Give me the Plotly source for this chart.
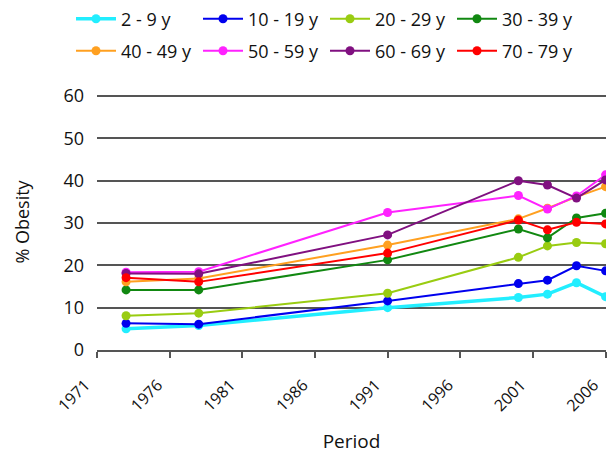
import plotly.graph_objects as go

years = [1973, 1978, 1991, 2000, 2002, 2004, 2006]
tick_years = [1971, 1976, 1981, 1986, 1991, 1996, 2001, 2006]

names = ["2 - 9 y", "10 - 19 y", "20 - 29 y", "30 - 39 y",
         "40 - 49 y", "50 - 59 y", "60 - 69 y", "70 - 79 y"]

age_2_9 = [5.0, 5.8, 10.0, 12.4, 13.2, 15.9, 12.6]
age_10_19 = [6.3, 6.1, 11.6, 15.7, 16.5, 19.9, 18.7]
age_20_29 = [8.1, 8.7, 13.4, 21.9, 24.6, 25.4, 25.1]
age_30_39 = [14.2, 14.2, 21.3, 28.6, 26.5, 31.2, 32.3]
age_40_49 = [16.1, 16.9, 24.8, 31.0, 33.5, 36.2, 38.6]
age_50_59 = [18.4, 18.5, 32.5, 36.5, 33.3, 36.4, 41.4]
age_60_69 = [18.1, 18.0, 27.2, 40.0, 39.0, 35.9, 40.2]
age_70_79 = [17.1, 16.1, 22.9, 30.7, 28.4, 30.2, 29.8]

series = [age_2_9, age_10_19, age_20_29, age_30_39,
          age_40_49, age_50_59, age_60_69, age_70_79]
colors = ["#22EEFF", "#0000EE", "#99CC11", "#118811",
          "#FFA020", "#FF22FF", "#801080", "#FF0000"]
widths = [3.5, 2, 2, 2, 2, 2, 2, 2]

FONT = "Open Sans"
NB = "\u00a0"
W, H = 615, 454

fig = go.Figure()
for i, (nm, vals, col, w) in enumerate(zip(names, series, colors, widths)):
    fig.add_trace(go.Scatter(
        x=years, y=vals, name=nm, mode="lines+markers",
        line=dict(color=col, width=w),
        marker=dict(color=col, size=9),
        legend="legend" if i < 4 else "legend2",
    ))

legend_common = dict(
    orientation="h", xref="container", yref="container",
    x=63 / W, xanchor="left", yanchor="middle",
    font=dict(family=FONT, size=18, color="#111"),
    itemwidth=40, entrywidth=72, bgcolor="rgba(0,0,0,0)",
)

fig.update_layout(
    width=W, height=H,
    margin=dict(l=89, r=8, t=86, b=112),
    paper_bgcolor="white", plot_bgcolor="white",
    font=dict(family=FONT, size=16, color="#111"),
    legend=dict(y=1 - 11 / H, **legend_common),
    legend2=dict(y=1 - 43 / H, **legend_common),
    xaxis=dict(
        range=[1971, 2006.03], tickmode="array", tickvals=tick_years,
        ticktext=[f"{t}{NB * 4}" for t in tick_years], tickangle=-45,
        ticklabeloverflow="allow",
        showgrid=False, zeroline=False,
        showline=True, linecolor="#555", linewidth=1.5,
        ticks="outside", ticklen=6, tickcolor="#555", tickwidth=1.5,
        ticklabelstandoff=0,
        tickfont=dict(family=FONT, size=16, color="#111"),
        title=dict(text="Period", font=dict(family=FONT, size=19, color="#111"), standoff=20),
    ),
    yaxis=dict(
        range=[0, 60.5], dtick=10, showgrid=True, gridcolor="#555", gridwidth=1.5,
        zeroline=False, showline=False, ticks="",
        ticklabelstandoff=12,
        tickfont=dict(family=FONT, size=18, color="#111"),
        title=dict(text="% Obesity", font=dict(family=FONT, size=18, color="#111"), standoff=29),
    ),
)

fig.write_html("out.html")
